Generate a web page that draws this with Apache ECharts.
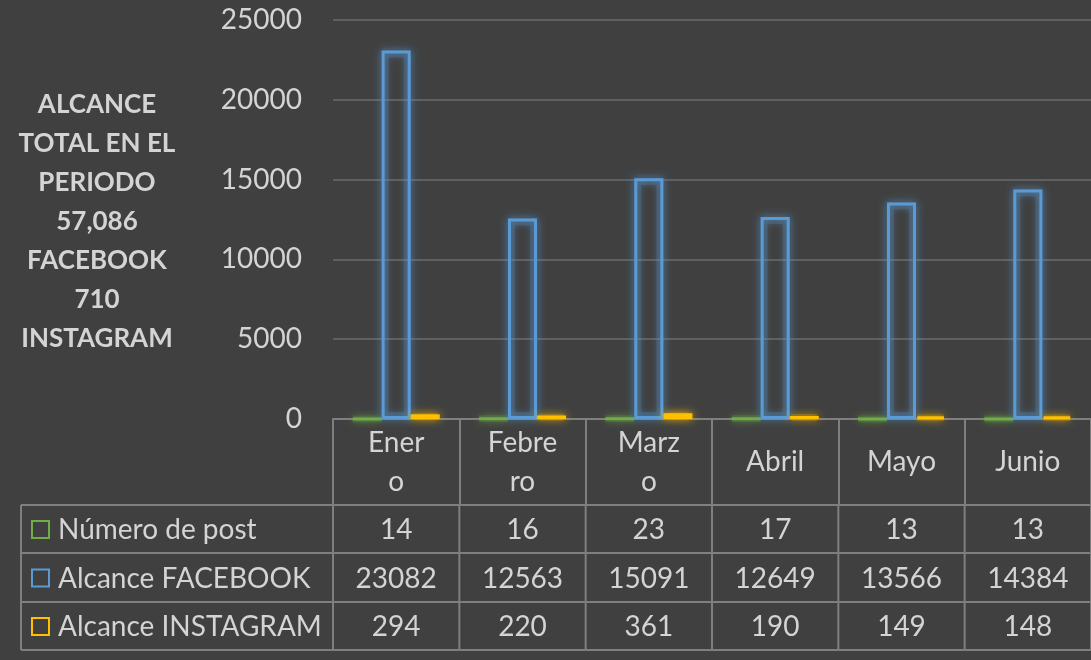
<!DOCTYPE html>
<html>
<head>
<meta charset="utf-8">
<script src="https://cdn.jsdelivr.net/npm/echarts@6/dist/echarts.min.js"></script>
<style>
  html, body { margin: 0; padding: 0; background: #404040; }
  #chart { width: 1091px; height: 660px; }
</style>
</head>
<body>
<div id="chart"></div>
<script>
// months as shown in the header row (Excel wrapped them)
const months = ["Ener\no", "Febre\nro", "Marz\no", "Abril", "Mayo", "Junio"];
const posts = [14, 16, 23, 17, 13, 13];
const facebook = [23082, 12563, 15091, 12649, 13566, 14384];
const instagram = [294, 220, 361, 190, 149, 148];
const seriesNames = ["Número de post", "Alcance FACEBOOK", "Alcance INSTAGRAM"];
const seriesColors = ["#70ad47", "#5b9bd5", "#ffc000"];
const glowColors = ["rgba(112,173,71,0.2)", "rgba(91,155,213,0.2)", "rgba(255,192,0,0.2)"];
const titleLines = ["ALCANCE", "TOTAL EN EL", "PERIODO", "57,086", "FACEBOOK", "710", "INSTAGRAM"];

const textColor = "#d4d4d4";
const lineColor = "#7f7f7f";
const font = "Lato";

const chart = echarts.init(document.getElementById("chart"));

const outlineBar = (name, data, color) => ({
    name: name,
    type: "bar",
    data: data,
    xAxisIndex: 0,
    z: 3,
    barGap: "0%",
    barCategoryGap: "31%",
    itemStyle: {
        color: "rgba(0,0,0,0)",
        borderColor: color,
        borderWidth: 3,
        shadowBlur: 8,
        shadowColor: color
    }
});

// soft halo drawn under each outline (separate hidden axis so it overlaps)
const haloBar = (name, data, color) => ({
    name: name + " glow",
    type: "bar",
    data: data,
    xAxisIndex: 1,
    z: 2,
    silent: true,
    barGap: "0%",
    barCategoryGap: "31%",
    itemStyle: {
        color: "rgba(0,0,0,0)",
        borderColor: color,
        borderWidth: 7,
        shadowBlur: 12,
        shadowColor: color
    }
});

chart.setOption({
    backgroundColor: "#404040",
    animation: false,
    textStyle: { fontFamily: font },
    grid: { left: 333, right: 0, top: 20, bottom: 241 },
    xAxis: [{
        type: "category",
        data: months,
        axisLine: { lineStyle: { color: lineColor, width: 2 } },
        axisTick: { show: true, length: 86, lineStyle: { color: lineColor, width: 2 } },
        axisLabel: { interval: 0, color: textColor, fontSize: 28, lineHeight: 39, margin: 43, verticalAlign: "middle", fontFamily: font }
    }, {
        type: "category",
        data: months,
        show: false
    }],
    yAxis: {
        type: "value",
        min: 0,
        max: 25000,
        interval: 5000,
        axisLine: { show: false },
        axisTick: { show: false },
        splitLine: { lineStyle: { color: "#606060", width: 2 } },
        axisLabel: { color: textColor, fontSize: 28, margin: 31, fontFamily: font, formatter: v => String(v) }
    },
    series: [
        haloBar(seriesNames[0], posts, glowColors[0]),
        haloBar(seriesNames[1], facebook, glowColors[1]),
        haloBar(seriesNames[2], instagram, glowColors[2]),
        outlineBar(seriesNames[0], posts, seriesColors[0]),
        outlineBar(seriesNames[1], facebook, seriesColors[1]),
        outlineBar(seriesNames[2], instagram, seriesColors[2])
    ]
});

// data table under the axis, built from the same arrays
const rows = [posts, facebook, instagram];
const rowTops = [505, 553, 602, 650];
const tableLeft = 21;
const labelRight = 333;
const g = [];

const half = (chart.convertToPixel({ xAxisIndex: 0 }, 1) - chart.convertToPixel({ xAxisIndex: 0 }, 0)) / 2;
const centers = months.map((m, i) => chart.convertToPixel({ xAxisIndex: 0 }, i));

// horizontal lines
rowTops.forEach(y => {
    g.push({ type: "line", shape: { x1: tableLeft, y1: y, x2: 1091, y2: y }, style: { stroke: lineColor, lineWidth: 2 } });
});
// vertical lines
const vx = [tableLeft, labelRight].concat(centers.map(c => c + half));
vx.forEach(x => {
    g.push({ type: "line", shape: { x1: x, y1: rowTops[0], x2: x, y2: rowTops[3] }, style: { stroke: lineColor, lineWidth: 2 } });
});

rows.forEach((vals, r) => {
    const cy = (rowTops[r] + rowTops[r + 1]) / 2 + 1;
    g.push({ type: "rect", shape: { x: 32, y: cy - 9, width: 17, height: 17 }, style: { fill: "none", stroke: seriesColors[r], lineWidth: 2 } });
    g.push({ type: "text", x: 58, y: cy, style: { text: seriesNames[r], fill: textColor, font: "28px " + font, textVerticalAlign: "middle" } });
    vals.forEach((v, i) => {
        g.push({ type: "text", x: centers[i], y: cy, style: { text: String(v), fill: textColor, font: "28px " + font, textAlign: "center", textVerticalAlign: "middle" } });
    });
});

// bold note on the left
g.push({
    type: "text",
    x: 97,
    y: 222,
    style: {
        text: titleLines.join("\n"),
        fill: textColor,
        font: "bold 26px " + font,
        lineHeight: 39,
        textAlign: "center",
        textVerticalAlign: "middle"
    }
});

chart.setOption({ graphic: g });
</script>
</body>
</html>
